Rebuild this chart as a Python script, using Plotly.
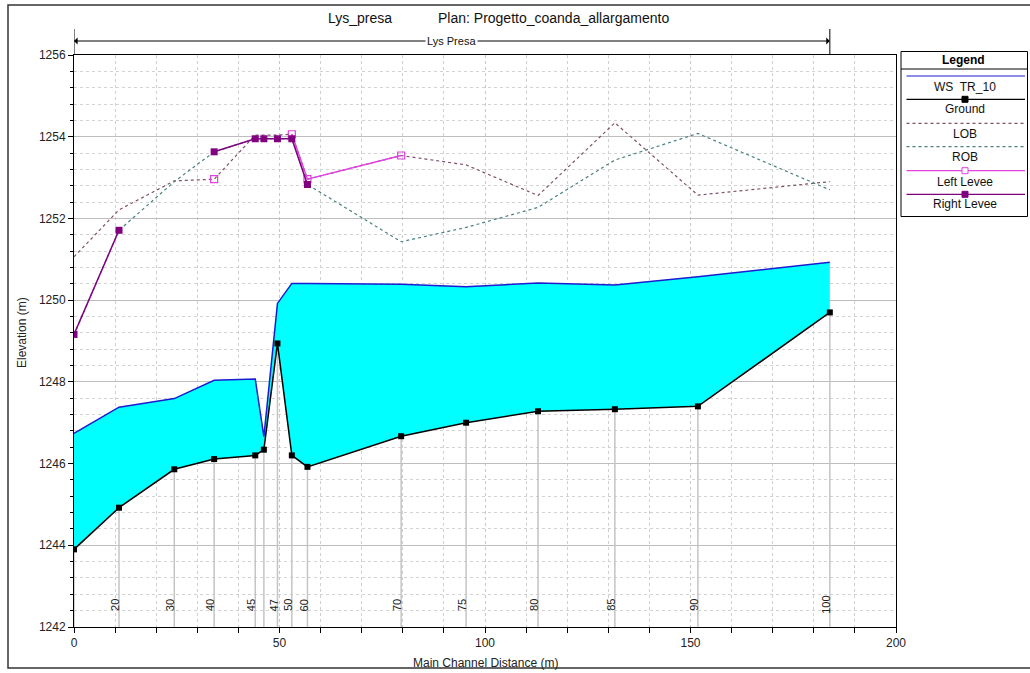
import plotly.graph_objects as go

# ---------------- data ----------------
dist = [0, 10.95, 24.4, 34.1, 44.1, 46.2, 49.5, 53.0, 56.8, 79.6, 95.4, 112.9, 131.6, 151.8, 183.9]
station_labels = ["", "20", "30", "40", "45", "", "47", "50", "60", "70", "75", "80", "85", "90", "100"]
ground = [1243.9, 1244.92, 1245.86, 1246.11, 1246.2, 1246.34, 1248.94, 1246.2, 1245.92,
          1246.67, 1247.0, 1247.28, 1247.33, 1247.4, 1249.7]
ws_tr10 = [1246.74, 1247.38, 1247.59, 1248.04, 1248.07, 1246.66, 1249.92, 1250.41, 1250.41,
           1250.39, 1250.33, 1250.42, 1250.37, 1250.57, 1250.93]
lob = [1251.06, 1252.21, 1252.92, 1252.96, 1254.04, 1254.04, 1254.04, 1254.06, 1252.96,
       1253.54, 1253.31, 1252.56, 1254.34, 1252.57, 1252.90]
rob = [1249.16, 1251.71, 1252.90, 1253.63, 1253.95, 1253.95, 1253.95, 1253.95, 1252.83,
       1251.43, 1251.78, 1252.27, 1253.43, 1254.08, 1252.70]
left_levee = [None, None, None, 1252.96, None, None, None, 1254.06, 1252.96, 1253.54,
              None, None, None, None, None]
right_levee = [1249.16, 1251.71, None, 1253.63, 1253.95, 1253.95, 1253.95, 1253.95, 1252.83,
               None, None, None, None, None, None]
x_ticks = [0, 50, 100, 150, 200]
y_ticks = [1242, 1244, 1246, 1248, 1250, 1252, 1254, 1256]
reach_name = "Lys Presa"
title_left = "Lys_presa"
title_right = "Plan: Progetto_coanda_allargamento"
legend_names = ["WS  TR_10", "Ground", "LOB", "ROB", "Left Levee", "Right Levee"]

FONT = "Arial, Liberation Sans, sans-serif"
W, H = 1030, 673
L, R, T, B = 74, 134, 55, 46
PW, PH = W - L - R, H - T - B


def px_x(px):
    return (px - L) / PW


def px_y(py):
    return (H - B - py) / PH


fig = go.Figure()

# station vertical lines (from bottom to ground)
sx, sy = [], []
for d, g in zip(dist, ground):
    sx += [d, d, None]
    sy += [y_ticks[0], g, None]
fig.add_trace(go.Scatter(x=sx, y=sy, mode="lines", line=dict(color="#c4c4c4", width=1.5),
                         hoverinfo="skip", showlegend=False))

# water fill between ground and WS
fig.add_trace(go.Scatter(x=dist, y=ground, mode="lines", line=dict(width=0, color="rgba(0,0,0,0)"),
                         hoverinfo="skip", showlegend=False))
fig.add_trace(go.Scatter(x=dist, y=ws_tr10, mode="lines", fill="tonexty", fillcolor="#00FFFF",
                         line=dict(color="#1c1cd0", width=1.5), name=legend_names[0], showlegend=False))

# bank lines
fig.add_trace(go.Scatter(x=dist, y=lob, mode="lines", line=dict(color="#80506a", width=1.2, dash="dot"),
                         name=legend_names[2], showlegend=False))
fig.add_trace(go.Scatter(x=dist, y=rob, mode="lines", line=dict(color="#4a8080", width=1.2, dash="dot"),
                         name=legend_names[3], showlegend=False))

# levees
fig.add_trace(go.Scatter(x=dist, y=left_levee, mode="lines+markers", connectgaps=False,
                         line=dict(color="#e040e0", width=1.5),
                         marker=dict(symbol="square-open", size=7, color="#e040e0", line=dict(width=1.2)),
                         name=legend_names[4], showlegend=False))
fig.add_trace(go.Scatter(x=dist, y=right_levee, mode="lines+markers", connectgaps=False,
                         line=dict(color="#800080", width=1.5),
                         marker=dict(symbol="square", size=7, color="#800080"),
                         name=legend_names[5], showlegend=False))

# ground
fig.add_trace(go.Scatter(x=dist, y=ground, mode="lines+markers", line=dict(color="black", width=1.5),
                         marker=dict(symbol="square", size=6, color="black"),
                         name=legend_names[1], showlegend=False))

annotations = []
shapes = []


def note(x, y, text, size=12, xref="paper", yref="paper", xanchor="center", yanchor="middle", **kw):
    annotations.append(dict(x=x, y=y, xref=xref, yref=yref, text=text, showarrow=False,
                            xanchor=xanchor, yanchor=yanchor,
                            font=dict(family=FONT, size=size, color=kw.pop("color", "#111")), **kw))


# station labels
for d, lab in zip(dist, station_labels):
    if lab:
        note(d, 1242.54, lab, size=11, xref="x", yref="y", textangle=-90, xshift=-4, color="#222")

# titles
note(px_x(326), px_y(18), title_left, size=14, xanchor="left")
note(px_x(436), px_y(18), title_right, size=14, xanchor="left")

# axis titles
note(px_x(485), px_y(663), "Main Channel Distance (m)", size=12, color="#222")
note(px_x(22), px_y(332), "Elevation (m)", size=12, textangle=-90, color="#222")

# reach arrow
ya = px_y(41)
mid = (dist[0] + dist[-1]) / 2
for end in (dist[0], dist[-1]):
    annotations.append(dict(x=end, y=ya, xref="x", yref="paper", ax=mid, ay=0, axref="x", ayref="pixel",
                            text="", showarrow=True, arrowhead=1, arrowsize=1.2, arrowwidth=1,
                            arrowcolor="black"))
    shapes.append(dict(type="line", xref="x", yref="paper", x0=end, x1=end, y0=px_y(29), y1=px_y(54),
                       line=dict(color="black", width=1)))
note(mid, ya, reach_name, size=11, xref="x", bgcolor="white", borderpad=1)

# outer frame
shapes.append(dict(type="rect", xref="paper", yref="paper", x0=px_x(8), x1=px_x(1040),
                   y0=px_y(668), y1=px_y(5), line=dict(color="#333", width=1.5), layer="below"))

# custom legend
lx0, lx1 = px_x(901), px_x(1027.5)
shapes.append(dict(type="rect", xref="paper", yref="paper", x0=lx0, x1=lx1, y0=px_y(216.5), y1=px_y(51.5),
                   line=dict(color="black", width=1), fillcolor="white"))
shapes.append(dict(type="line", xref="paper", yref="paper", x0=lx0, x1=lx1, y0=px_y(69), y1=px_y(69),
                   line=dict(color="black", width=1)))
note(px_x(964), px_y(60.5), "<b>Legend</b>", size=12, color="black")

leg_styles = [
    dict(color="#1c1cd0", dash="solid", marker=None),
    dict(color="black", dash="solid", marker=("black", "black")),
    dict(color="#80506a", dash="dot", marker=None),
    dict(color="#4a8080", dash="dot", marker=None),
    dict(color="#e040e0", dash="solid", marker=("white", "#e040e0")),
    dict(color="#800080", dash="solid", marker=("#800080", "#800080")),
]
line_ys = [76, 99.3, 123.3, 146.7, 170.7, 194.3]
text_ys = [87.3, 109.3, 134.3, 157.3, 181.7, 204.3]
sx0, sx1 = px_x(906.5), px_x(1025)
for name, st, lyp, typ in zip(legend_names, leg_styles, line_ys, text_ys):
    shapes.append(dict(type="line", xref="paper", yref="paper", x0=sx0, x1=sx1, y0=px_y(lyp), y1=px_y(lyp),
                       line=dict(color=st["color"], width=1.2, dash=st["dash"])))
    if st["marker"]:
        fc, lc = st["marker"]
        shapes.append(dict(type="rect", xref="paper", yref="paper", x0=px_x(962), x1=px_x(968),
                           y0=px_y(lyp + 3), y1=px_y(lyp - 3), fillcolor=fc, line=dict(color=lc, width=1)))
    note(px_x(965), px_y(typ), name, size=12)

fig.update_layout(
    width=W, height=H,
    margin=dict(l=L, r=R, t=T, b=B),
    paper_bgcolor="white", plot_bgcolor="white",
    showlegend=False,
    annotations=annotations, shapes=shapes,
    xaxis=dict(range=[0, 200], tickvals=x_ticks, ticks="outside", ticklen=5, tickcolor="black",
               showline=True, linecolor="black", linewidth=1, mirror=True, zeroline=False,
               showgrid=True, gridcolor="#c8c8c8", griddash="dot", gridwidth=1,
               tickfont=dict(family=FONT, size=12, color="#222"),
               minor=dict(dtick=10, tick0=0, ticks="outside", ticklen=5, tickcolor="black",
                          showgrid=True, gridcolor="#cfcfcf", griddash="dot")),
    yaxis=dict(range=[1242, 1256], tickvals=y_ticks, ticks="outside", ticklen=5, tickcolor="black",
               showline=True, linecolor="black", linewidth=1, mirror=True, zeroline=False,
               showgrid=True, gridcolor="#bdbdbd", gridwidth=1,
               tickfont=dict(family=FONT, size=12, color="#222"),
               minor=dict(dtick=0.4, tick0=1242, ticks="outside", ticklen=3, tickcolor="black",
                          showgrid=True, gridcolor="#d2d2d2", griddash="dot")),
)

fig.write_html("out.html")
